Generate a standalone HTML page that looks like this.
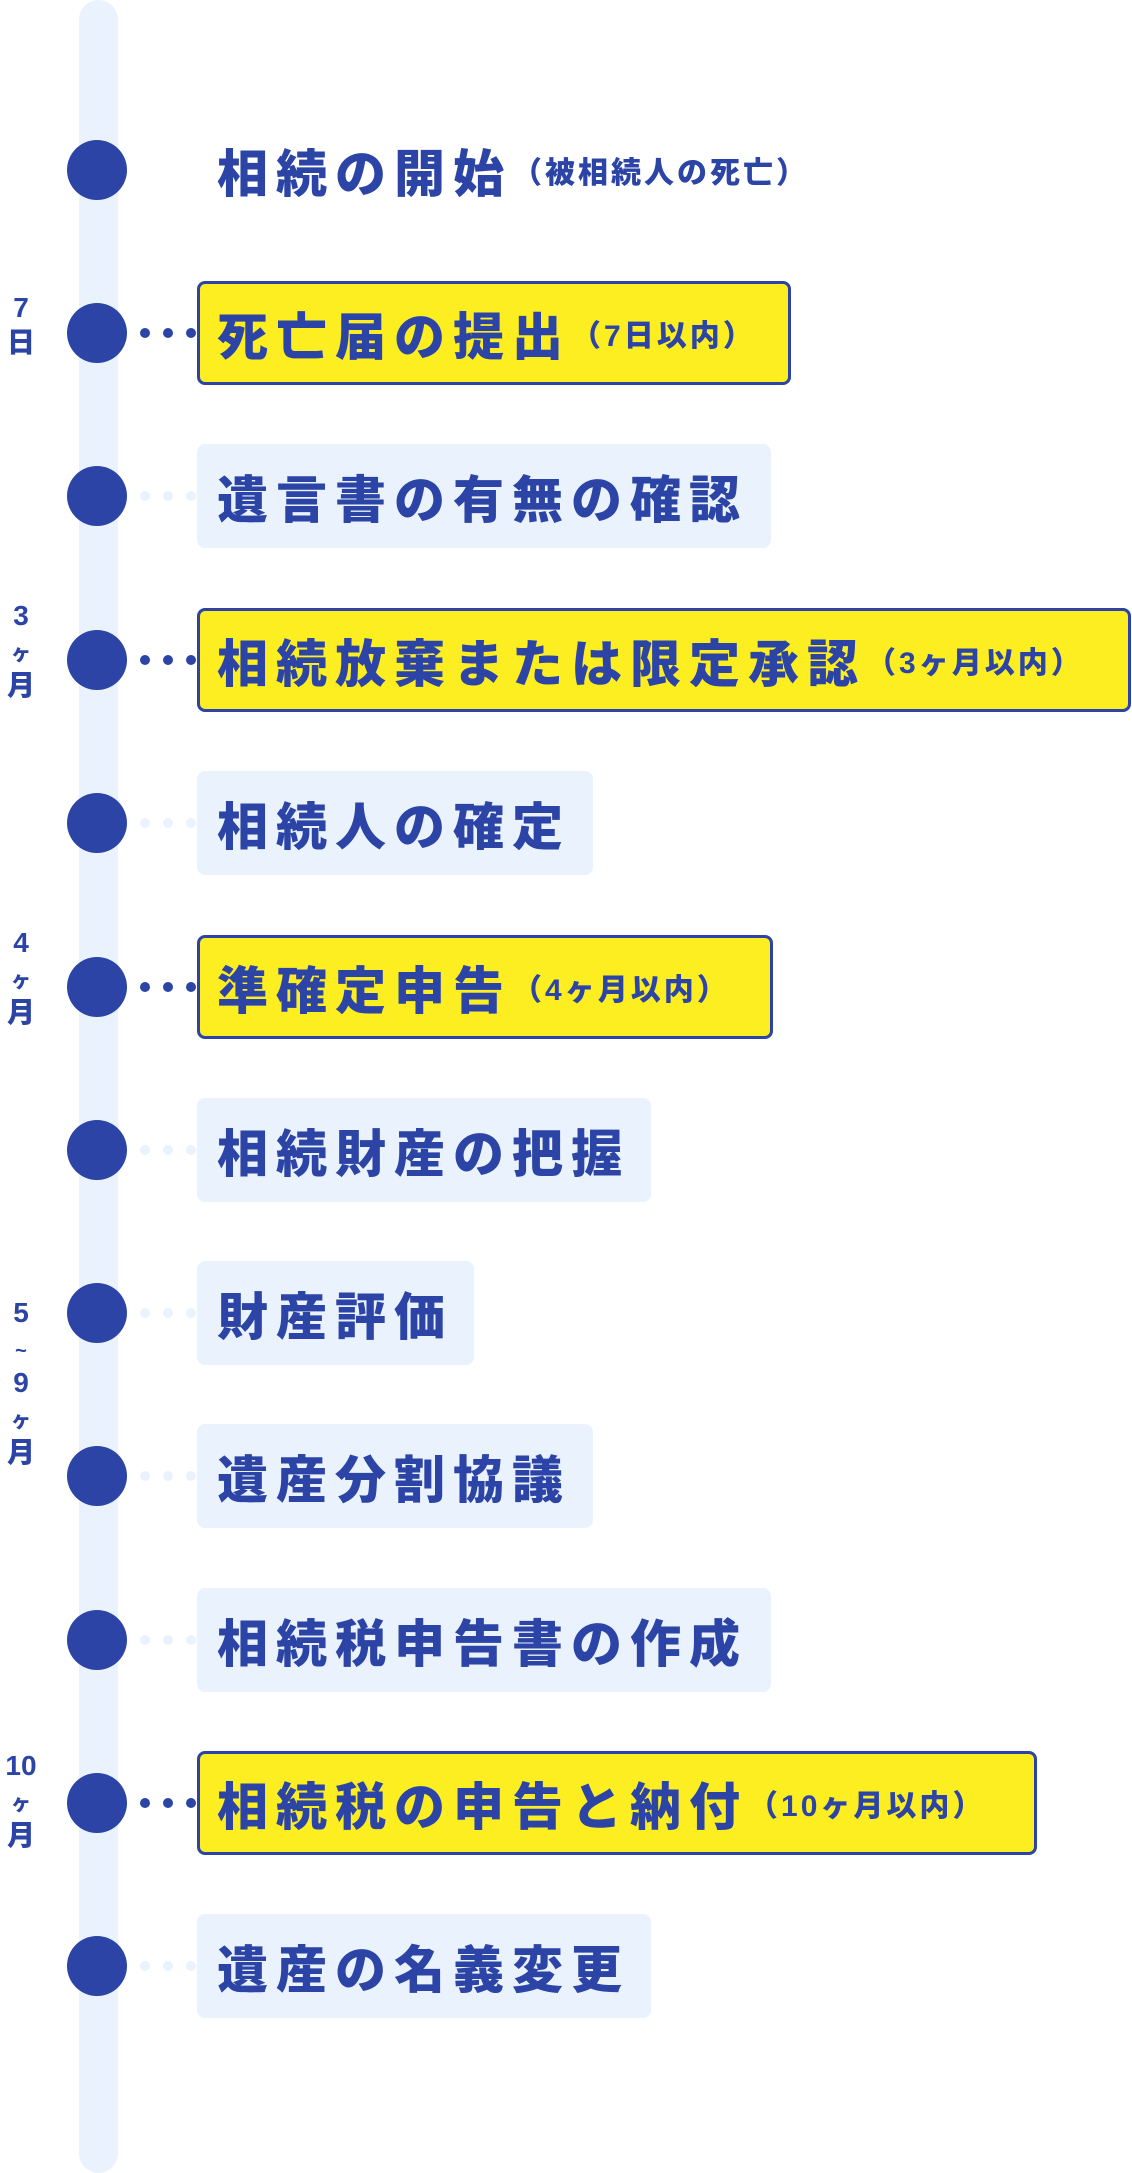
<!DOCTYPE html>
<html><head><meta charset="utf-8"><style>
body{margin:0;width:1132px;height:2173px;background:#fff;position:relative;overflow:hidden;font-family:"Liberation Sans","Noto Sans CJK JP",sans-serif;color:#2b44a6;font-weight:900}
.bar{position:absolute;left:79px;top:0;width:39px;height:2173px;background:#eaf2fd;border-radius:20px}
.c{position:absolute;left:67px;width:60px;height:60px;border-radius:50%;background:#2b44a6}
.d{position:absolute;width:10px;height:10px;border-radius:50%}
.b{position:absolute;left:197px;height:104px;box-sizing:border-box;border-radius:8px;display:flex;align-items:center;padding-left:20px;white-space:nowrap;font-size:51px;letter-spacing:8px}
.y{background:#fdee21;border:3px solid #2b44a6;padding-left:17px}
.l{background:#eaf2fd}
.s{font-size:30px;letter-spacing:3px}
.lab{position:absolute;left:0;width:42px;text-align:center;font-size:28px;line-height:1.25}
.k{font-size:20px}
</style></head><body>
<div class="bar"></div>

<div class="c" style="top:140px"></div>
<div class="b" style="top:118px;width:700px">相続の開始<span class="s">（被相続人の死亡）</span></div>

<div class="c" style="top:303px"></div>
<div class="b y" style="top:281px;width:594px">死亡届の提出<span class="s">（7日以内）</span></div>

<div class="c" style="top:466px"></div>
<div class="b l" style="top:444px;width:574px">遺言書の有無の確認</div>

<div class="c" style="top:630px"></div>
<div class="b y" style="top:608px;width:934px">相続放棄または限定承認<span class="s">（3ヶ月以内）</span></div>

<div class="c" style="top:793px"></div>
<div class="b l" style="top:771px;width:396px">相続人の確定</div>

<div class="c" style="top:957px"></div>
<div class="b y" style="top:935px;width:576px">準確定申告<span class="s">（4ヶ月以内）</span></div>

<div class="c" style="top:1120px"></div>
<div class="b l" style="top:1098px;width:454px">相続財産の把握</div>

<div class="c" style="top:1283px"></div>
<div class="b l" style="top:1261px;width:277px">財産評価</div>

<div class="c" style="top:1446px"></div>
<div class="b l" style="top:1424px;width:396px">遺産分割協議</div>

<div class="c" style="top:1610px"></div>
<div class="b l" style="top:1588px;width:574px">相続税申告書の作成</div>

<div class="c" style="top:1773px"></div>
<div class="b y" style="top:1751px;width:840px">相続税の申告と納付<span class="s">（10ヶ月以内）</span></div>

<div class="c" style="top:1936px"></div>
<div class="b l" style="top:1914px;width:454px">遺産の名義変更</div>

<div class="d" style="left:140px;top:328px;background:#2b44a6"></div><div class="d" style="left:163px;top:328px;background:#2b44a6"></div><div class="d" style="left:186px;top:328px;background:#2b44a6"></div>
<div class="d" style="left:140px;top:491px;background:#eaf2fd"></div><div class="d" style="left:163px;top:491px;background:#eaf2fd"></div><div class="d" style="left:186px;top:491px;background:#eaf2fd"></div>
<div class="d" style="left:140px;top:655px;background:#2b44a6"></div><div class="d" style="left:163px;top:655px;background:#2b44a6"></div><div class="d" style="left:186px;top:655px;background:#2b44a6"></div>
<div class="d" style="left:140px;top:818px;background:#eaf2fd"></div><div class="d" style="left:163px;top:818px;background:#eaf2fd"></div><div class="d" style="left:186px;top:818px;background:#eaf2fd"></div>
<div class="d" style="left:140px;top:982px;background:#2b44a6"></div><div class="d" style="left:163px;top:982px;background:#2b44a6"></div><div class="d" style="left:186px;top:982px;background:#2b44a6"></div>
<div class="d" style="left:140px;top:1145px;background:#eaf2fd"></div><div class="d" style="left:163px;top:1145px;background:#eaf2fd"></div><div class="d" style="left:186px;top:1145px;background:#eaf2fd"></div>
<div class="d" style="left:140px;top:1308px;background:#eaf2fd"></div><div class="d" style="left:163px;top:1308px;background:#eaf2fd"></div><div class="d" style="left:186px;top:1308px;background:#eaf2fd"></div>
<div class="d" style="left:140px;top:1471px;background:#eaf2fd"></div><div class="d" style="left:163px;top:1471px;background:#eaf2fd"></div><div class="d" style="left:186px;top:1471px;background:#eaf2fd"></div>
<div class="d" style="left:140px;top:1635px;background:#eaf2fd"></div><div class="d" style="left:163px;top:1635px;background:#eaf2fd"></div><div class="d" style="left:186px;top:1635px;background:#eaf2fd"></div>
<div class="d" style="left:140px;top:1798px;background:#2b44a6"></div><div class="d" style="left:163px;top:1798px;background:#2b44a6"></div><div class="d" style="left:186px;top:1798px;background:#2b44a6"></div>
<div class="d" style="left:140px;top:1961px;background:#eaf2fd"></div><div class="d" style="left:163px;top:1961px;background:#eaf2fd"></div><div class="d" style="left:186px;top:1961px;background:#eaf2fd"></div>

<div class="lab" style="top:290px">7<br>日</div>
<div class="lab" style="top:598px">3<br><span class="k">ヶ</span><br>月</div>
<div class="lab" style="top:925px">4<br><span class="k">ヶ</span><br>月</div>
<div class="lab" style="top:1295px">5<br><span class="k">~</span><br>9<br><span class="k">ヶ</span><br>月</div>
<div class="lab" style="top:1748px">10<br><span class="k">ヶ</span><br>月</div>
</body></html>
